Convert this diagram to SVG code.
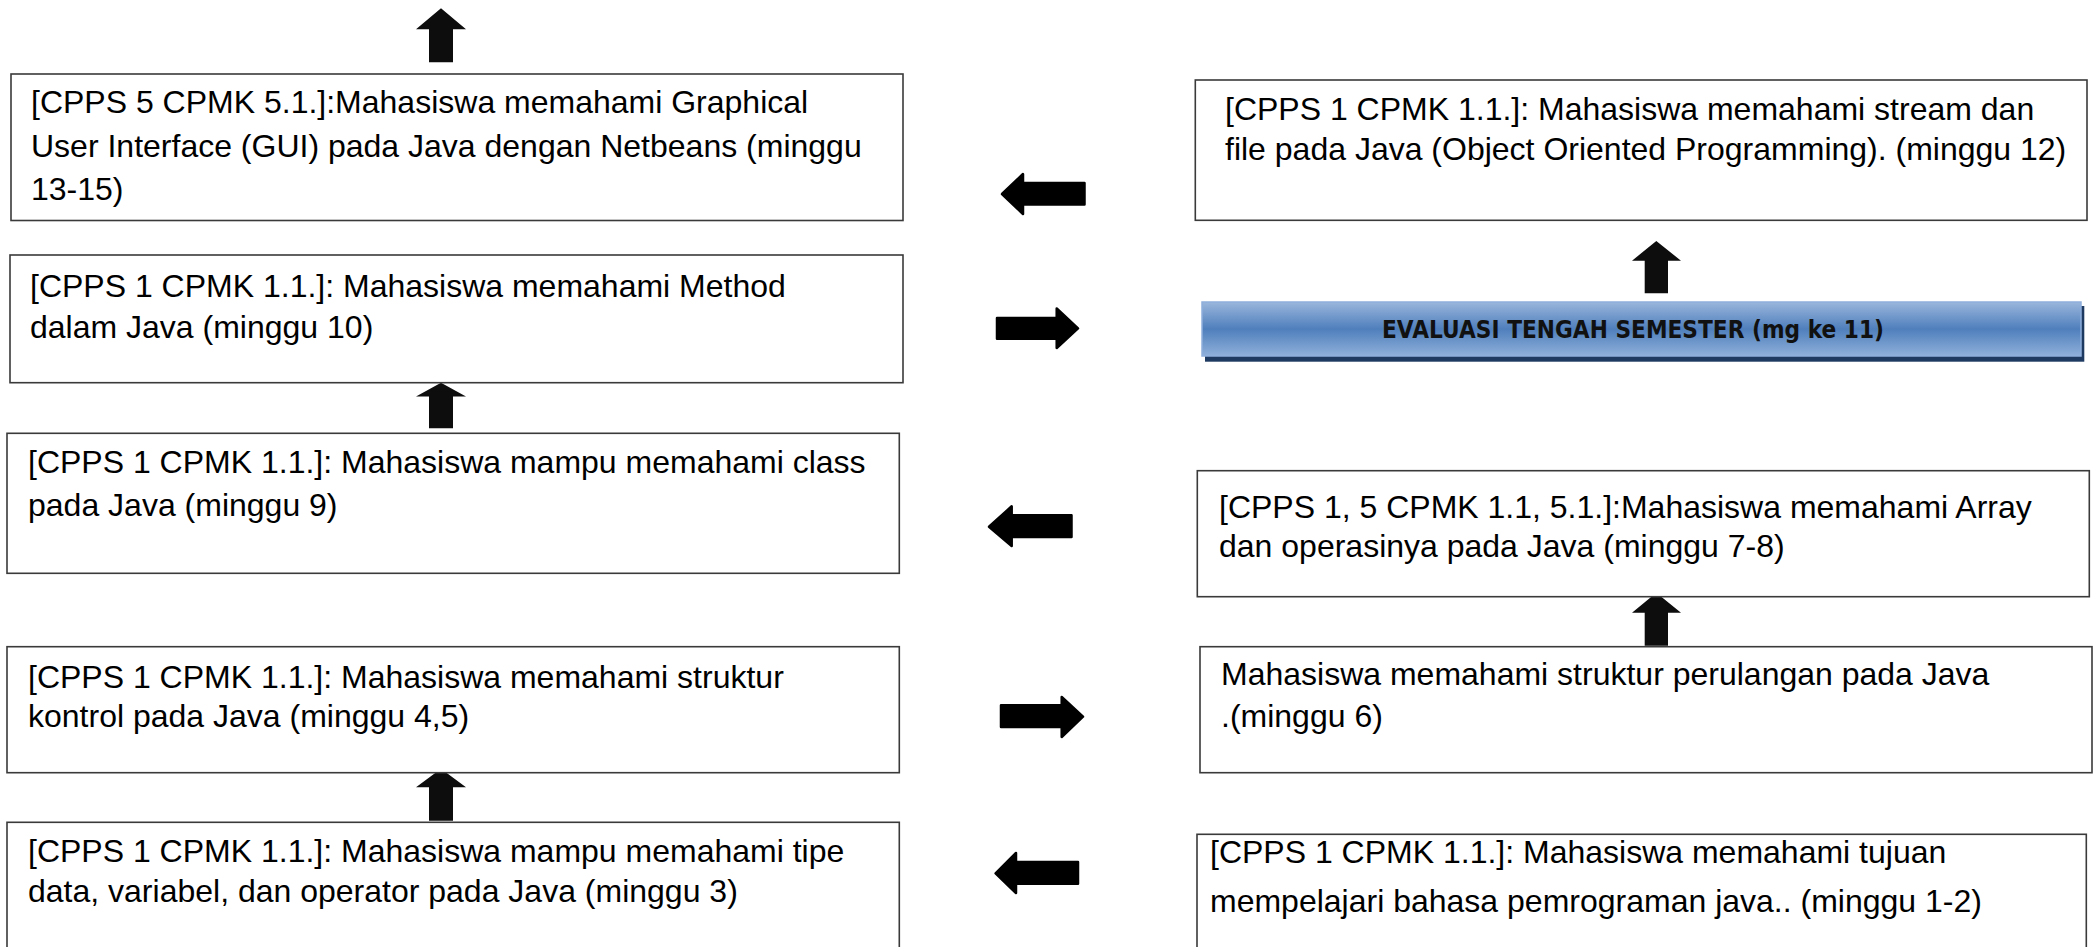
<svg xmlns="http://www.w3.org/2000/svg" width="2097" height="947" viewBox="0 0 2097 947">
<style>
.box{fill:#ffffff;stroke:#3a3a3a;stroke-width:1.6}
.t{font-family:"Liberation Sans",Arial,sans-serif;font-size:32px;fill:#000}
.up{fill:#0d0d0d}
.hz{fill:#000;stroke:#000;stroke-width:2.5;stroke-linejoin:round}
.ev{font-family:"DejaVu Sans",sans-serif;font-weight:bold;font-size:25px;fill:#111}
</style>
<defs>
<linearGradient id="evg" x1="0" y1="0" x2="0" y2="1">
<stop offset="0" stop-color="#9ab6dc"/>
<stop offset="0.5" stop-color="#4f7fbc"/>
<stop offset="1" stop-color="#8fb0da"/>
</linearGradient>
</defs>
<rect width="2097" height="947" fill="#ffffff"/>
<g id="connectors">
<polygon class="up" points="441,8.3 466,29.3 453,29.3 453,62.3 429,62.3 429,29.3 416,29.3"/>
<polygon class="up" points="441,382.7 466,396.5 453,396.5 453,428.3 429,428.3 429,396.5 416,396.5"/>
<polygon class="up" points="441,768.7 466,787.3 453,787.3 453,820.7 429,820.7 429,787.3 416,787.3"/>
<polygon class="up" points="1656.3,241 1681,260.7 1668,260.7 1668,293.3 1644.7,293.3 1644.7,260.7 1632,260.7"/>
<polygon class="up" points="1656.3,592.7 1681,612.7 1668,612.7 1668,645.7 1644.7,645.7 1644.7,612.7 1632,612.7"/>
<polygon class="hz" points="1002,194 1023,174 1023,183 1084.5,183 1084.5,204.5 1023,204.5 1023,214"/>
<polygon class="hz" points="997,318 1056.7,318 1056.7,308.5 1078,328.3 1056.7,348 1056.7,338.8 997,338.8"/>
<polygon class="hz" points="989,526.7 1011.7,506.3 1011.7,515.2 1071.5,515.2 1071.5,537 1011.7,537 1011.7,546"/>
<polygon class="hz" points="1001,705.2 1061.7,705.2 1061.7,697 1083,716.7 1061.7,737 1061.7,727 1001,727"/>
<polygon class="hz" points="995.6,873.3 1016,853 1016,862 1078,862 1078,883.8 1016,883.8 1016,893"/>
</g>
<g id="node-l1">
<rect class="box" x="11" y="74" width="892" height="146.5"/>
<text class="t" x="31" y="113.3">[CPPS 5 CPMK 5.1.]:Mahasiswa memahami Graphical</text>
<text class="t" x="31" y="156.7">User Interface (GUI) pada Java dengan Netbeans (minggu</text>
<text class="t" x="31" y="200">13-15)</text>
</g>
<g id="node-l2">
<rect class="box" x="10" y="255" width="893" height="127.7"/>
<text class="t" x="30" y="297">[CPPS 1 CPMK 1.1.]: Mahasiswa memahami Method</text>
<text class="t" x="30" y="338">dalam Java (minggu 10)</text>
</g>
<g id="node-l3">
<rect class="box" x="7" y="433.3" width="892.3" height="140"/>
<text class="t" x="28" y="473.3">[CPPS 1 CPMK 1.1.]: Mahasiswa mampu memahami class</text>
<text class="t" x="28" y="516">pada Java (minggu 9)</text>
</g>
<g id="node-l4">
<rect class="box" x="7" y="646.7" width="892.3" height="126"/>
<text class="t" x="28" y="688.3">[CPPS 1 CPMK 1.1.]: Mahasiswa memahami struktur</text>
<text class="t" x="28" y="726.7">kontrol pada Java (minggu 4,5)</text>
</g>
<g id="node-l5">
<rect class="box" x="7" y="822.3" width="892.3" height="130"/>
<text class="t" x="28" y="861.7">[CPPS 1 CPMK 1.1.]: Mahasiswa mampu memahami tipe</text>
<text class="t" x="28" y="901.7">data, variabel, dan operator pada Java (minggu 3)</text>
</g>
<g id="node-r1">
<rect class="box" x="1195.3" y="80" width="891.7" height="140.3"/>
<text class="t" x="1225" y="120">[CPPS 1 CPMK 1.1.]: Mahasiswa memahami stream dan</text>
<text class="t" x="1225" y="160">file pada Java (Object Oriented Programming). (minggu 12)</text>
</g>
<g id="node-eval">
<rect x="1205" y="306" width="879.3" height="55.7" fill="#1f3a60"/>
<rect x="1202" y="302" width="879" height="54" fill="url(#evg)" stroke="#8eaedb" stroke-width="1.5"/>
<text class="ev" x="1382" y="338.3" textLength="502" lengthAdjust="spacingAndGlyphs">EVALUASI TENGAH SEMESTER (mg ke 11)</text>
</g>
<g id="node-r3">
<rect class="box" x="1197.3" y="470.7" width="892" height="126"/>
<text class="t" x="1219" y="518.3">[CPPS 1, 5 CPMK 1.1, 5.1.]:Mahasiswa memahami Array</text>
<text class="t" x="1219" y="556.7">dan operasinya pada Java (minggu 7-8)</text>
</g>
<g id="node-r4">
<rect class="box" x="1200" y="646.7" width="892" height="126"/>
<text class="t" x="1221" y="685">Mahasiswa memahami struktur perulangan pada Java</text>
<text class="t" x="1221" y="726.7">.(minggu 6)</text>
</g>
<g id="node-r5">
<rect class="box" x="1197" y="834.3" width="889.3" height="120"/>
<text class="t" x="1210" y="863">[CPPS 1 CPMK 1.1.]: Mahasiswa memahami tujuan</text>
<text class="t" x="1210" y="912">mempelajari bahasa pemrograman java.. (minggu 1-2)</text>
</g>
</svg>
